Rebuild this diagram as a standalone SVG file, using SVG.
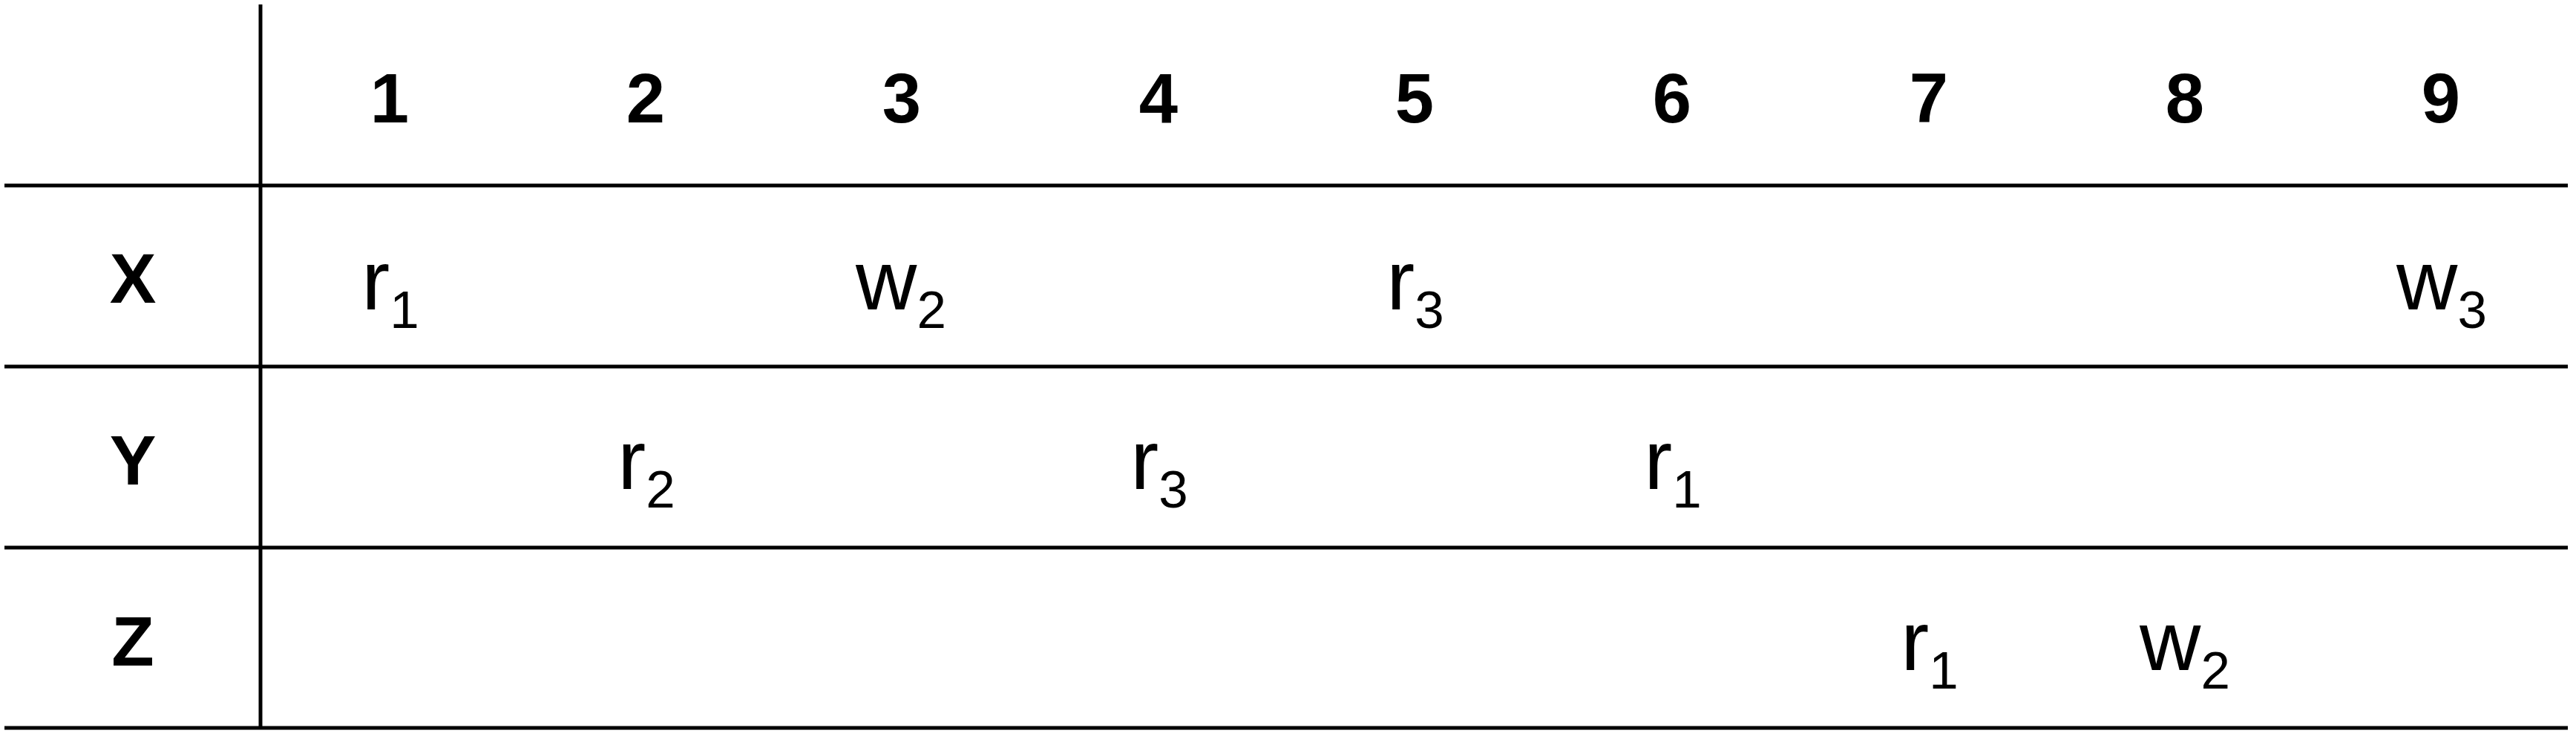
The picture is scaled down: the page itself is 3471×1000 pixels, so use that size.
<svg xmlns="http://www.w3.org/2000/svg" width="3471" height="1000" viewBox="0 0 3471 1000">
<style>
.grid line{stroke:#000;stroke-width:5;fill:none}
.hdr{font-family:"Liberation Sans",Arial,sans-serif;font-weight:bold;font-size:94px;text-anchor:middle;fill:#000}
.cell{font-family:"Liberation Sans",Arial,sans-serif;font-size:114px;text-anchor:middle;fill:#000}
.sub{font-size:71px}
</style>
<rect x="0" y="0" width="3471" height="1000" fill="#fff"/>
<g id="connectors" class="grid">
<line x1="6" y1="250" x2="3460" y2="250"/>
<line x1="6" y1="494" x2="3460" y2="494"/>
<line x1="6" y1="738" x2="3460" y2="738"/>
<line x1="6" y1="981" x2="3460" y2="981"/>
<line x1="351" y1="6" x2="351" y2="983"/>
</g>
<g id="header">
<text class="hdr" x="525" y="165">1</text>
<text class="hdr" x="870" y="165">2</text>
<text class="hdr" x="1215" y="165">3</text>
<text class="hdr" x="1561" y="165">4</text>
<text class="hdr" x="1906" y="165">5</text>
<text class="hdr" x="2253" y="165">6</text>
<text class="hdr" x="2599" y="165">7</text>
<text class="hdr" x="2944" y="165">8</text>
<text class="hdr" x="3289" y="165">9</text>
</g>
<g id="row-X">
<text class="hdr" x="179" y="408">X</text>
<text class="cell" x="526" y="417">r<tspan class="sub" dy="25">1</tspan></text>
<text class="cell" x="1214" y="417">w<tspan class="sub" dy="25">2</tspan></text>
<text class="cell" x="1907" y="417">r<tspan class="sub" dy="25">3</tspan></text>
<text class="cell" x="3290" y="417">w<tspan class="sub" dy="25">3</tspan></text>
</g>
<g id="row-Y">
<text class="hdr" x="179" y="653">Y</text>
<text class="cell" x="871" y="659">r<tspan class="sub" dy="25">2</tspan></text>
<text class="cell" x="1562" y="659">r<tspan class="sub" dy="25">3</tspan></text>
<text class="cell" x="2254" y="659">r<tspan class="sub" dy="25">1</tspan></text>
</g>
<g id="row-Z">
<text class="hdr" x="179" y="897">Z</text>
<text class="cell" x="2600" y="903">r<tspan class="sub" dy="25">1</tspan></text>
<text class="cell" x="2944" y="903">w<tspan class="sub" dy="25">2</tspan></text>
</g>
</svg>
